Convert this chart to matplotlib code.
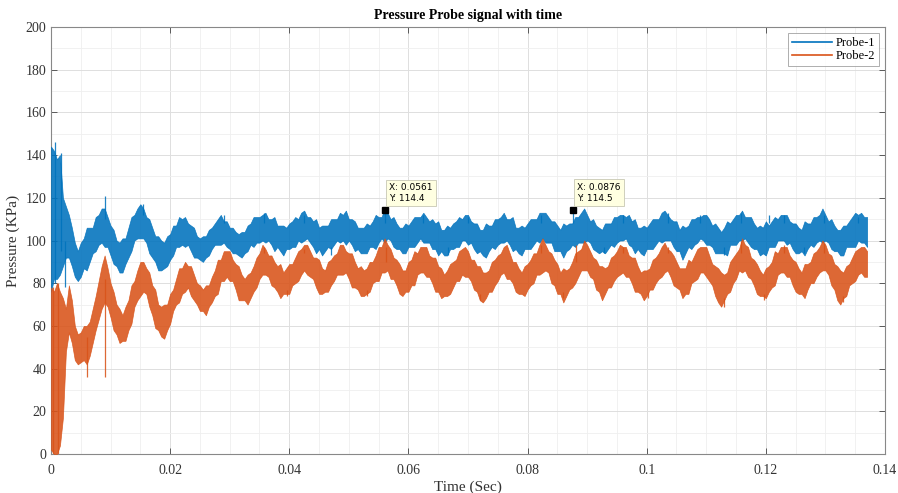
import numpy as np
import matplotlib
matplotlib.use("Agg")
import matplotlib.pyplot as plt
from matplotlib.lines import Line2D

# sample step of the traces (s)
DT = 0.0005

# Probe-1: mid-line of the noisy band (KPa), one value every DT
probe1_mid = [
    110, 112, 110, 112, 104, 104, 102, 97, 91, 88,
    91, 94, 96, 98, 100, 103, 105, 107, 106, 104,
    100, 97, 94, 92, 93, 95, 99, 103, 106, 108,
    109, 108, 105, 102, 99, 96, 94, 93, 93, 95,
    97, 100, 102, 104, 104, 104, 103, 101, 99, 97,
    96, 96, 97, 99, 101, 103, 104, 105, 104, 103,
    101, 100, 99, 98, 98, 99, 101, 103, 104, 105,
    105,
    106, 106, 105, 104, 103, 102, 101, 100, 101, 102, 103, 104, 105, 106,
    107, 106, 105, 103, 102, 101, 100, 101, 102, 103, 104, 105, 106,
    106, 106, 105, 104, 102, 101, 100, 100, 101, 102, 103, 104, 105, 106,
    107, 107, 105, 104, 102, 101, 100, 101, 102, 103, 104, 105, 106,
    106, 105, 104, 103, 102, 101, 100, 99, 100, 101, 102, 103, 104, 105,
    106, 105, 104, 102, 101, 100, 99, 100, 101, 102, 103, 104, 105,
    106, 105, 104, 103, 101, 100, 100, 101, 102, 103, 104, 105, 106,
    107, 106, 105, 104, 102, 101, 100, 100, 101, 102, 103, 104, 105, 106,
    107, 106, 104, 103, 101, 100, 100, 101, 102, 103, 104, 105, 106,
    106, 106, 105, 103, 102, 101, 100, 100, 101, 102, 103, 104, 105, 106,
    107, 106, 105, 103, 102, 100, 99, 100, 102, 103, 104, 105, 106,
    106, 105, 104, 102, 101, 100, 99, 100, 101, 103, 104, 105, 106,
    107, 106, 105, 104, 102, 101, 100, 100, 101, 102, 103, 104, 105, 106,
    106, 105, 104, 102, 101, 100, 100, 101, 102, 103, 104, 105, 106,
    107, 106, 104, 103, 101, 100, 99, 100, 102, 103, 104, 105, 106,
    106, 105, 104,
]
# half height of the Probe-1 band (KPa)
probe1_half = [
    34, 30, 28, 28, 16, 12, 10, 9, 8, 7,
    8, 7, 10, 8, 6, 8, 7, 8, 9, 7,
    7, 8, 6, 7, 8, 6, 7, 8, 6, 7,
    8, 7, 6, 8, 7, 6, 8, 7, 6, 7,
    6, 7, 5, 7, 6, 7, 5, 6, 7, 5,
    5, 6, 5, 6, 5, 5, 6, 7, 5, 6,
    5, 6, 5, 5, 6, 5, 6, 5, 7, 6,
    6,
    6, 7, 5, 6, 8, 5, 6, 7, 5, 6, 6, 7, 5, 7,
    7, 5, 6, 6, 8, 5, 7, 6, 5, 7, 6, 5, 7,
    6, 8, 5, 6, 7, 5, 6, 6, 7, 5, 6, 8, 6, 5,
    8, 6, 5, 7, 6, 5, 6, 7, 5, 6, 7, 6, 5,
    7, 6, 5, 7, 6, 8, 5, 6, 7, 5, 6, 6, 7, 5,
    6, 7, 5, 6, 7, 5, 6, 8, 6, 5, 7, 6, 6,
    7, 5, 6, 8, 5, 6, 7, 5, 6, 7, 6, 5, 7,
    6, 7, 6, 5, 7, 6, 5, 8, 6, 6, 5, 7, 6, 7,
    8, 6, 5, 7, 6, 6, 5, 7, 6, 5, 7, 6, 6,
    6, 5, 7, 6, 8, 5, 6, 7, 5, 6, 7, 6, 5, 7,
    7, 6, 5, 6, 7, 5, 8, 6, 5, 7, 6, 6, 5,
    6, 7, 6, 5, 7, 6, 5, 6, 8, 5, 6, 7, 6,
    7, 5, 6, 7, 6, 5, 7, 6, 8, 5, 6, 7, 5, 6,
    6, 7, 5, 6, 7, 6, 5, 8, 6, 5, 7, 6, 6,
    8, 6, 5, 7, 6, 5, 6, 7, 5, 6, 7, 8, 6,
    7, 6, 7,
]

# Probe-2: mid-line of the noisy band (KPa)
probe2_mid = [
    40, 38, 40, 40, 45, 58, 68, 62, 52, 49,
    50, 52, 51, 54, 60, 66, 72, 78, 82, 78,
    72, 67, 63, 60, 59, 61, 65, 70, 75, 79,
    82, 83, 81, 77, 72, 68, 64, 62, 62, 64,
    68, 72, 76, 79, 81, 83, 83, 81, 78, 75,
    73, 72, 72, 74, 77, 80, 83, 86, 88, 89,
    88, 86, 83, 80, 78, 77, 77, 79, 82, 85,
    88,
    91, 90, 88, 86, 84, 82, 81, 80, 81, 82, 84, 86, 88, 90,
    92, 91, 89, 87, 85, 83, 81, 81, 83, 85, 87, 89, 91,
    91, 90, 88, 86, 84, 82, 81, 80, 81, 83, 85, 87, 89, 91,
    93, 92, 89, 87, 85, 82, 80, 81, 83, 85, 87, 89, 91,
    91, 90, 88, 86, 84, 82, 80, 79, 80, 82, 84, 86, 88, 90,
    90, 89, 86, 84, 82, 80, 78, 79, 81, 83, 85, 87, 89,
    91, 90, 88, 85, 83, 81, 80, 81, 83, 85, 87, 89, 91,
    93, 92, 90, 87, 85, 82, 80, 79, 80, 82, 84, 87, 89, 91,
    93, 92, 89, 87, 84, 82, 80, 81, 83, 85, 87, 89, 91,
    91, 90, 88, 86, 84, 82, 80, 79, 80, 82, 84, 86, 88, 90,
    92, 91, 89, 86, 84, 82, 80, 81, 83, 85, 87, 89, 91,
    91, 90, 87, 84, 81, 79, 77, 78, 80, 83, 86, 88, 91,
    93, 92, 90, 87, 85, 82, 80, 79, 80, 82, 84, 87, 89, 91,
    91, 90, 88, 85, 83, 81, 80, 81, 83, 85, 87, 89, 91,
    93, 92, 89, 86, 83, 80, 78, 79, 81, 84, 86, 88, 90,
    91, 90, 89,
]
probe2_half = [
    38, 38, 40, 36, 28, 10, 11, 10, 8, 7,
    7, 8, 9, 8, 8, 8, 9, 10, 11, 9,
    8, 9, 7, 8, 6, 8, 7, 9, 6, 7,
    8, 7, 6, 8, 7, 9, 6, 7, 8, 6,
    7, 5, 6, 8, 6, 7, 5, 7, 6, 5,
    6, 5, 7, 5, 6, 6, 8, 5, 7, 6,
    7, 5, 6, 8, 6, 5, 7, 6, 6, 7,
    6,
    7, 6, 5, 7, 6, 6, 8, 5, 6, 7, 5, 6, 7, 6,
    6, 7, 6, 5, 7, 8, 6, 5, 7, 6, 6, 5, 7,
    7, 5, 6, 8, 6, 5, 7, 6, 6, 7, 5, 6, 8, 6,
    8, 6, 7, 5, 6, 7, 6, 5, 7, 6, 8, 5, 6,
    6, 7, 5, 6, 8, 6, 7, 5, 6, 7, 6, 5, 7, 6,
    7, 6, 5, 7, 6, 8, 7, 6, 5, 7, 6, 6, 5,
    6, 8, 6, 5, 7, 6, 5, 7, 6, 6, 7, 5, 7,
    8, 6, 5, 7, 6, 7, 5, 8, 6, 5, 6, 7, 6, 5,
    7, 6, 6, 5, 7, 6, 8, 6, 5, 7, 6, 6, 7,
    6, 7, 5, 6, 8, 6, 5, 7, 6, 5, 7, 6, 6, 7,
    7, 5, 6, 7, 6, 5, 7, 6, 8, 5, 6, 7, 6,
    6, 7, 6, 5, 7, 8, 8, 6, 5, 7, 6, 6, 5,
    8, 6, 7, 5, 6, 7, 6, 5, 7, 6, 6, 8, 5, 6,
    6, 7, 5, 6, 7, 6, 5, 8, 6, 5, 7, 6, 6,
    7, 6, 5, 7, 6, 8, 8, 6, 7, 5, 6, 7, 6,
    6, 7, 6,
]

# single spikes sticking out of the bands (time, low end, high end)
probe1_spike_t = [0.0006, 0.0017, 0.0024, 0.0090, 0.0155, 0.0290, 0.0357, 0.0424,
                  0.0470, 0.0561, 0.0625, 0.0666, 0.0700, 0.0822, 0.0876, 0.0928,
                  0.0961, 0.1035, 0.1090, 0.1130, 0.1158, 0.1205, 0.1230, 0.1264,
                  0.1297, 0.1355]
probe1_spike_lo = [80, 95, 78, 110, 112, 108, 108, 108,
                   93, 108, 108, 93, 108, 108, 108, 94,
                   108, 108, 108, 93, 108, 108, 108, 94,
                   108, 108]
probe1_spike_hi = [146, 141, 100, 121, 117, 112, 113, 112,
                   97, 114.4, 112, 97, 111, 112, 114.5, 97,
                   112, 113, 112, 97, 113, 112, 112, 97,
                   112, 111]
probe2_spike_t = [0.0003, 0.0012, 0.0060, 0.0091, 0.0357, 0.0397, 0.0424, 0.0531,
                  0.0562, 0.0720, 0.0822, 0.0860, 0.0882, 0.0961, 0.1002, 0.1035,
                  0.1130, 0.1158, 0.1197, 0.1230, 0.1297, 0.1330]
probe2_spike_lo = [0, 0, 36, 36, 94, 74, 94, 74,
                   90, 72, 94, 73, 90, 94, 73, 94,
                   69, 94, 72, 94, 94, 71]
probe2_spike_hi = [78, 80, 55, 82, 97, 77, 96, 77,
                   97, 75, 98, 76, 98, 97, 76, 97,
                   73, 100, 75, 98, 99, 74]

# data tips
tip_x = [0.0561, 0.0876]
tip_y = [114.4, 114.5]

x_ticks = [0, 0.02, 0.04, 0.06, 0.08, 0.1, 0.12, 0.14]
x_labels = ["0", "0.02", "0.04", "0.06", "0.08", "0.1", "0.12", "0.14"]
y_ticks = list(range(0, 201, 20))

c1 = "#0072BD"
c2 = "#D95319"

plt.rcParams["font.family"] = ["Liberation Serif", "DejaVu Serif"]

fig = plt.figure(figsize=(8.98, 4.93), dpi=100)
ax = fig.add_axes([0.0568, 0.0791, 0.9287, 0.8661])

t1 = np.arange(len(probe1_mid)) * DT
m1 = np.array(probe1_mid, float)
h1 = np.array(probe1_half, float)
ax.fill_between(t1, m1 - h1, m1 + h1, color=c1, alpha=0.88, lw=0.5, zorder=3)
ax.vlines(probe1_spike_t, probe1_spike_lo, probe1_spike_hi, color=c1, lw=0.9,
          alpha=0.88, zorder=3)

t2 = np.arange(len(probe2_mid)) * DT
m2 = np.array(probe2_mid, float)
h2 = np.array(probe2_half, float)
ax.fill_between(t2, np.clip(m2 - h2, 0, None), m2 + h2, color=c2, alpha=0.88, lw=0.5, zorder=4)
ax.vlines(probe2_spike_t, probe2_spike_lo, probe2_spike_hi, color=c2, lw=0.9,
          alpha=0.88, zorder=4)

# data tip markers and boxes
for x, y in zip(tip_x, tip_y):
    ax.plot(x, y, "s", color="k", ms=4, zorder=6)
    ax.annotate(f"X: {x}\nY: {y}", (x, y), xytext=(3, 5), textcoords="offset points",
                ha="left", va="bottom", fontsize=6.5, family="DejaVu Sans",
                linespacing=1.3, zorder=7,
                bbox=dict(boxstyle="square,pad=0.35", fc="#ffffe1", ec="#c8c8b4", lw=0.6))

ax.set_xlim(0, 0.14)
ax.set_ylim(0, 200)
ax.set_xticks(x_ticks)
ax.set_xticklabels(x_labels)
ax.set_yticks(y_ticks)
ax.set_xticks(np.arange(0, 0.1401, 0.005), minor=True)
ax.set_yticks(range(0, 201, 10), minor=True)

ax.grid(True, which="major", color="#dedede", lw=0.7, zorder=0)
ax.grid(True, which="minor", color="#efefef", lw=0.6, zorder=0)
ax.set_axisbelow(True)

ax.tick_params(which="both", direction="in", top=True, right=True, colors="#444444",
               labelsize=10, labelcolor="#333333")
ax.tick_params(which="minor", length=0)
ax.tick_params(which="major", length=4, width=0.6)
ax.tick_params(axis="x", pad=7)
for s in ax.spines.values():
    s.set_color("#888888")
    s.set_linewidth(0.8)

ax.set_xlabel("Time (Sec)", fontsize=11, color="#333333", labelpad=3)
ax.set_ylabel("Pressure (KPa)", fontsize=11, color="#333333", labelpad=4)
ax.set_title("Pressure Probe signal with time", fontsize=10, fontweight="bold", pad=6)

handles = [Line2D([], [], color=c1, lw=1.2), Line2D([], [], color=c2, lw=1.2)]
leg = ax.legend(handles, ["Probe-1", "Probe-2"], loc="upper right", fontsize=9,
                frameon=True, fancybox=False, borderpad=0.3, handlelength=3.2,
                handletextpad=0.3, labelspacing=0.1, borderaxespad=0.5)
leg.get_frame().set_edgecolor("#999999")
leg.get_frame().set_linewidth(0.7)

fig.savefig("out.png", dpi=100)
